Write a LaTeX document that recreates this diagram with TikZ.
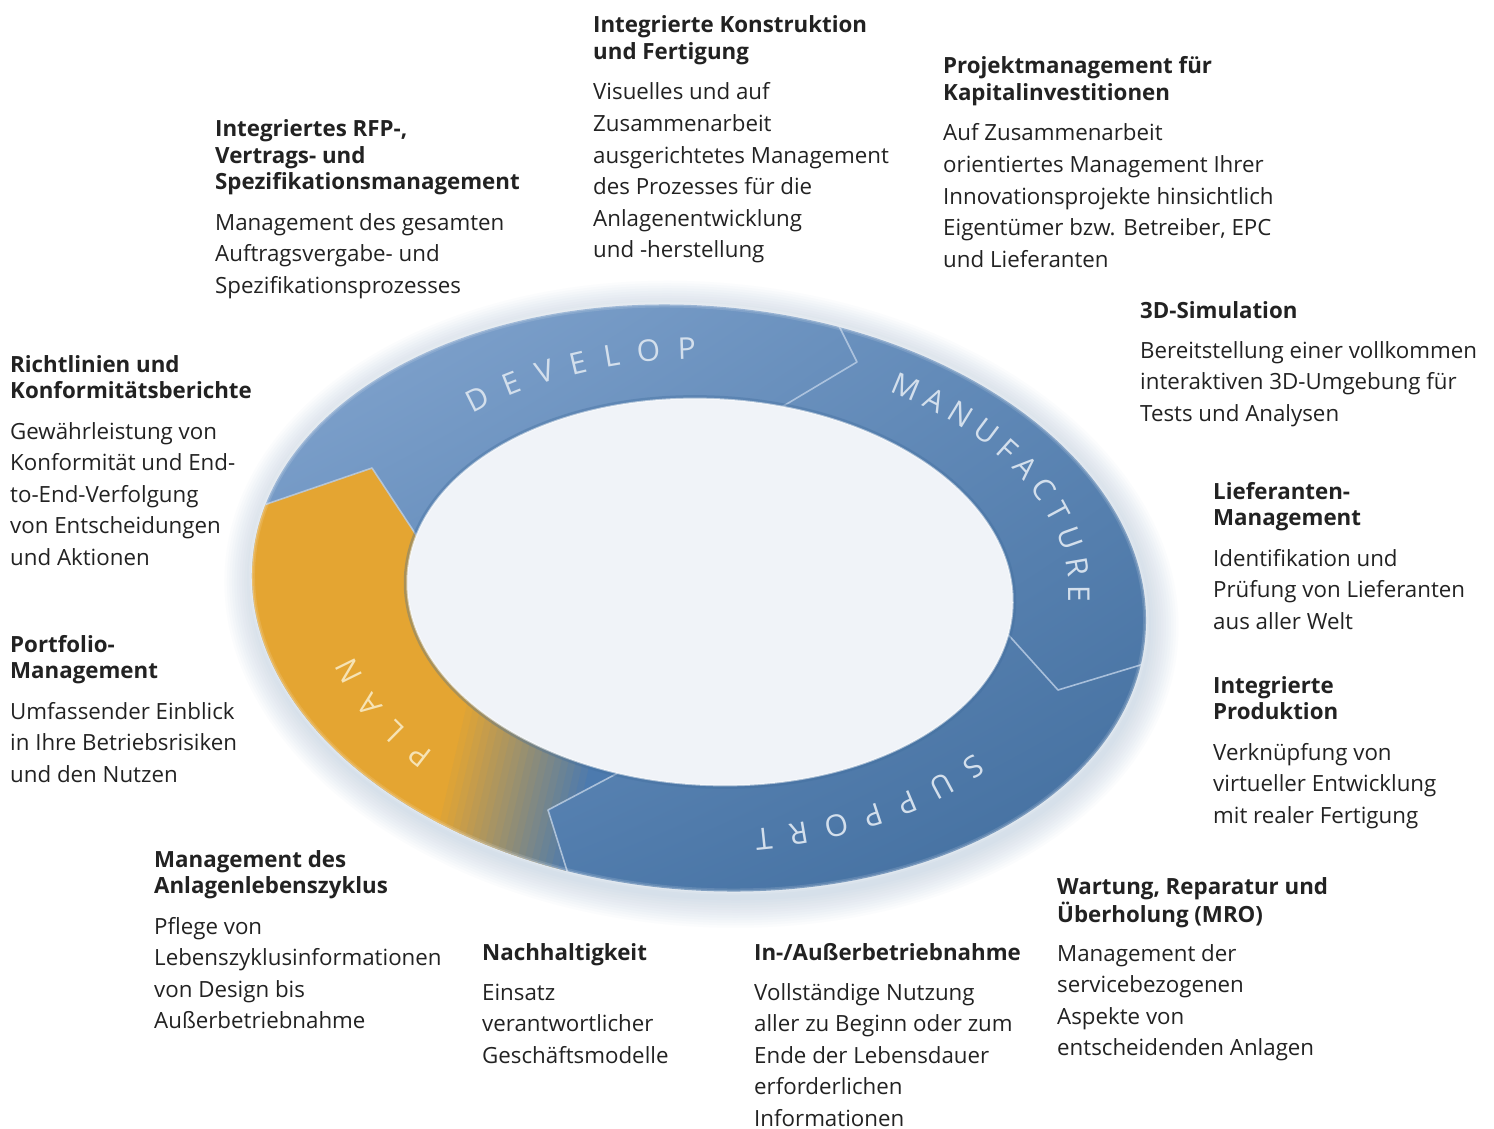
\documentclass[tikz,border=0pt]{standalone}
\usepackage{fontspec}
\setmainfont{Open Sans}
\usetikzlibrary{decorations.text,shadings}

\definecolor{ringblue}{HTML}{4C7AAE}
\definecolor{ringlight}{HTML}{88A9D2}
\definecolor{ringdark}{HTML}{406C9C}
\definecolor{planorange}{HTML}{E4A532}
\definecolor{holefill}{HTML}{F0F3F8}
\definecolor{glowblue}{HTML}{A9BCD6}
\definecolor{chevline}{HTML}{B8CCE4}
\definecolor{ringtext}{HTML}{D3DFEC}
\definecolor{plantext}{HTML}{F6E3B5}
\definecolor{copytext}{HTML}{222222}

\newcommand{\blkhead}{\fontsize{22.3}{26.5}\selectfont\bfseries}
\newcommand{\blkbody}{\fontsize{22.3}{31.6}\selectfont}
\newcommand{\ringlettering}{\fontsize{30}{30}\selectfont}
\newcommand{\ringwide}{\hspace*{17pt}}
\newcommand{\blklines}[1]{\begin{tabular}[t]{@{}l@{}}#1\end{tabular}}
\newcommand{\outerrim}{(699,598) ellipse [x radius=448, y radius=292]}
\newcommand{\innerrim}{(710,592) ellipse [x radius=303, y radius=193]}

\tikzset{
  blocktitle/.style={anchor=base west, inner sep=0pt, text=copytext, font=\blkhead},
  blocktext/.style={anchor=base west, inner sep=0pt, text=copytext, font=\blkbody},
  chevron/.style={draw=chevline, line width=1.6pt, line join=round, opacity=.85},
  ringlabel/.style={decorate, decoration={text along path, text align=center, text={#1}}},
}

\begin{document}
\begin{tikzpicture}[x=1pt,y=-1pt]
\fill[white] (0,0) rectangle (1494,1129);
\useasboundingbox (0,0) rectangle (1494,1129);

% soft halo round the ring
\foreach \g in {1,...,12}
  \fill[glowblue, opacity=.045, rotate around={-5:(699,598)}] (702,604) ellipse [x radius={448+2.5*\g}, y radius={292+2.5*\g}];

% ring body
\shade[rotate around={-5:(699,598)}, upper left=ringlight, upper right=ringblue!90!white, lower left=ringblue!95!white, lower right=ringdark] \outerrim;

\begin{scope}
  \clip[rotate around={-5:(699,598)}] \outerrim;
  % plan segment, fading into blue
  \begin{scope}
    \clip (150,520) -- (220,520) -- (372,468) -- (430,556) -- (600,650) -- (650,756) -- (548,810) -- (580,915) -- (150,915) -- cycle;
    \fill[planorange] (150,460) rectangle (700,920);
    \begin{scope}[shift={(440,790)}, rotate=-13]
      \foreach \s [evaluate=\s as \mix using int(100-5*\s)] in {0,...,20}
        \fill[planorange!\mix!ringblue] ({7*\s},-300) rectangle ({7*\s+8},300);
      \fill[ringblue] (147,-300) rectangle (600,300);
    \end{scope}
  \end{scope}
  % segment borders
  \draw[chevron] (820,288) -- (857,362) -- (780,408);
  \draw[chevron] (995,620) -- (1058,690) -- (1180,653);
  \draw[chevron] (650,756) -- (548,810) -- (580,912);
  \draw[chevron] (220,520) -- (372,468) -- (430,556);
\end{scope}
% soft outer edge
\draw[white, line width=6pt, opacity=.12, rotate around={-5:(699,598)}] \outerrim;
\draw[white, line width=2.5pt, opacity=.2, rotate around={-5:(699,598)}] \outerrim;

% hole
\draw[ringdark, line width=7pt, opacity=.35, rotate around={-3:(710,592)}] \innerrim;
\fill[holefill, rotate around={-3:(710,592)}] \innerrim;
\draw[white, line width=2pt, opacity=.5, rotate around={-3:(710,592)}] \innerrim;

% ring labels
\path[ringlabel={|\ringlettering\color{ringtext}|D{\ringwide}E{\ringwide}V{\ringwide}E{\ringwide}L{\ringwide}O{\ringwide}P}, shift={(705,595)}] (-146.5:364 and 236) arc [start angle=-146.5, end angle=-77.5, x radius=364, y radius=236];
\path[ringlabel={|\ringlettering\color{ringtext}|M A N U F A C T U R E}, shift={(705,595)}] (-73:364 and 236) arc [start angle=-73, end angle=21, x radius=364, y radius=236];
\path[ringlabel={|\ringlettering\color{ringtext}|S{\ringwide}U{\ringwide}P{\ringwide}P{\ringwide}O{\ringwide}R{\ringwide}T}, shift={(705,595)}] (23:364 and 236) arc [start angle=23, end angle=97, x radius=364, y radius=236];
\path[ringlabel={|\ringlettering\color{plantext}|P{\ringwide}L{\ringwide}A{\ringwide}N}, shift={(705,595)}] (123.5:364 and 236) arc [start angle=123.5, end angle=184.5, x radius=364, y radius=236];

% text blocks
\node[blocktitle] (konstr-t) at (593,33) {\blklines{Integrierte Konstruktion\\und Fertigung}};
\node[blocktext] (konstr-b) at (593,100) {\blklines{Visuelles und auf\\Zusammenarbeit\\ausgerichtetes Management\\des Prozesses für die\\Anlagenentwicklung\\und -herstellung}};

\node[blocktitle] (projekt-t) at (943,74) {\blklines{Projektmanagement für\\Kapitalinvestitionen}};
\node[blocktext] (projekt-b) at (943,141) {\blklines{Auf Zusammenarbeit\\orientiertes Management Ihrer\\Innovationsprojekte hinsichtlich\\Eigentümer bzw. Betreiber, EPC\\und Lieferanten}};

\node[blocktitle] (rfp-t) at (215,137) {\blklines{Integriertes RFP-,\\Vertrags- und\\Spezifikationsmanagement}};
\node[blocktext] (rfp-b) at (215,230) {\blklines{Management des gesamten\\Auftragsvergabe- und\\Spezifikationsprozesses}};

\node[blocktitle] (sim-t) at (1140,318) {3D-Simulation};
\node[blocktext] (sim-b) at (1140,358) {\blklines{Bereitstellung einer vollkommen\\interaktiven 3D-Umgebung für\\Tests und Analysen}};

\node[blocktitle] (richtl-t) at (10,372) {\blklines{Richtlinien und\\Konformitätsberichte}};
\node[blocktext] (richtl-b) at (10,439) {\blklines{Gewährleistung von\\Konformität und End-\\to-End-Verfolgung\\von Entscheidungen\\und Aktionen}};

\node[blocktitle] (liefer-t) at (1213,499) {\blklines{Lieferanten-\\Management}};
\node[blocktext] (liefer-b) at (1213,566) {\blklines{Identifikation und\\Prüfung von Lieferanten\\aus aller Welt}};

\node[blocktitle] (portf-t) at (10,652) {\blklines{Portfolio-\\Management}};
\node[blocktext] (portf-b) at (10,719) {\blklines{Umfassender Einblick\\in Ihre Betriebsrisiken\\und den Nutzen}};

\node[blocktitle] (prod-t) at (1213,693) {\blklines{Integrierte\\Produktion}};
\node[blocktext] (prod-b) at (1213,760) {\blklines{Verknüpfung von\\virtueller Entwicklung\\mit realer Fertigung}};

\node[blocktitle] (zyklus-t) at (154,867) {\blklines{Management des\\Anlagenlebenszyklus}};
\node[blocktext] (zyklus-b) at (154,934) {\blklines{Pflege von\\Lebenszyklusinformationen\\von Design bis\\Außerbetriebnahme}};

\node[blocktitle] (nachh-t) at (482,960) {Nachhaltigkeit};
\node[blocktext] (nachh-b) at (482,1000) {\blklines{Einsatz\\verantwortlicher\\Geschäftsmodelle}};

\node[blocktitle] (inbetr-t) at (754,960) {In-/Außerbetriebnahme};
\node[blocktext] (inbetr-b) at (754,1000) {\blklines{Vollständige Nutzung\\aller zu Beginn oder zum\\Ende der Lebensdauer\\erforderlichen\\Informationen}};

\node[blocktitle] (mro-t) at (1057,894) {\blklines{Wartung, Reparatur und\\Überholung (MRO)}};
\node[blocktext] (mro-b) at (1057,961) {\blklines{Management der\\servicebezogenen\\Aspekte von\\entscheidenden Anlagen}};
\end{tikzpicture}
\end{document}
